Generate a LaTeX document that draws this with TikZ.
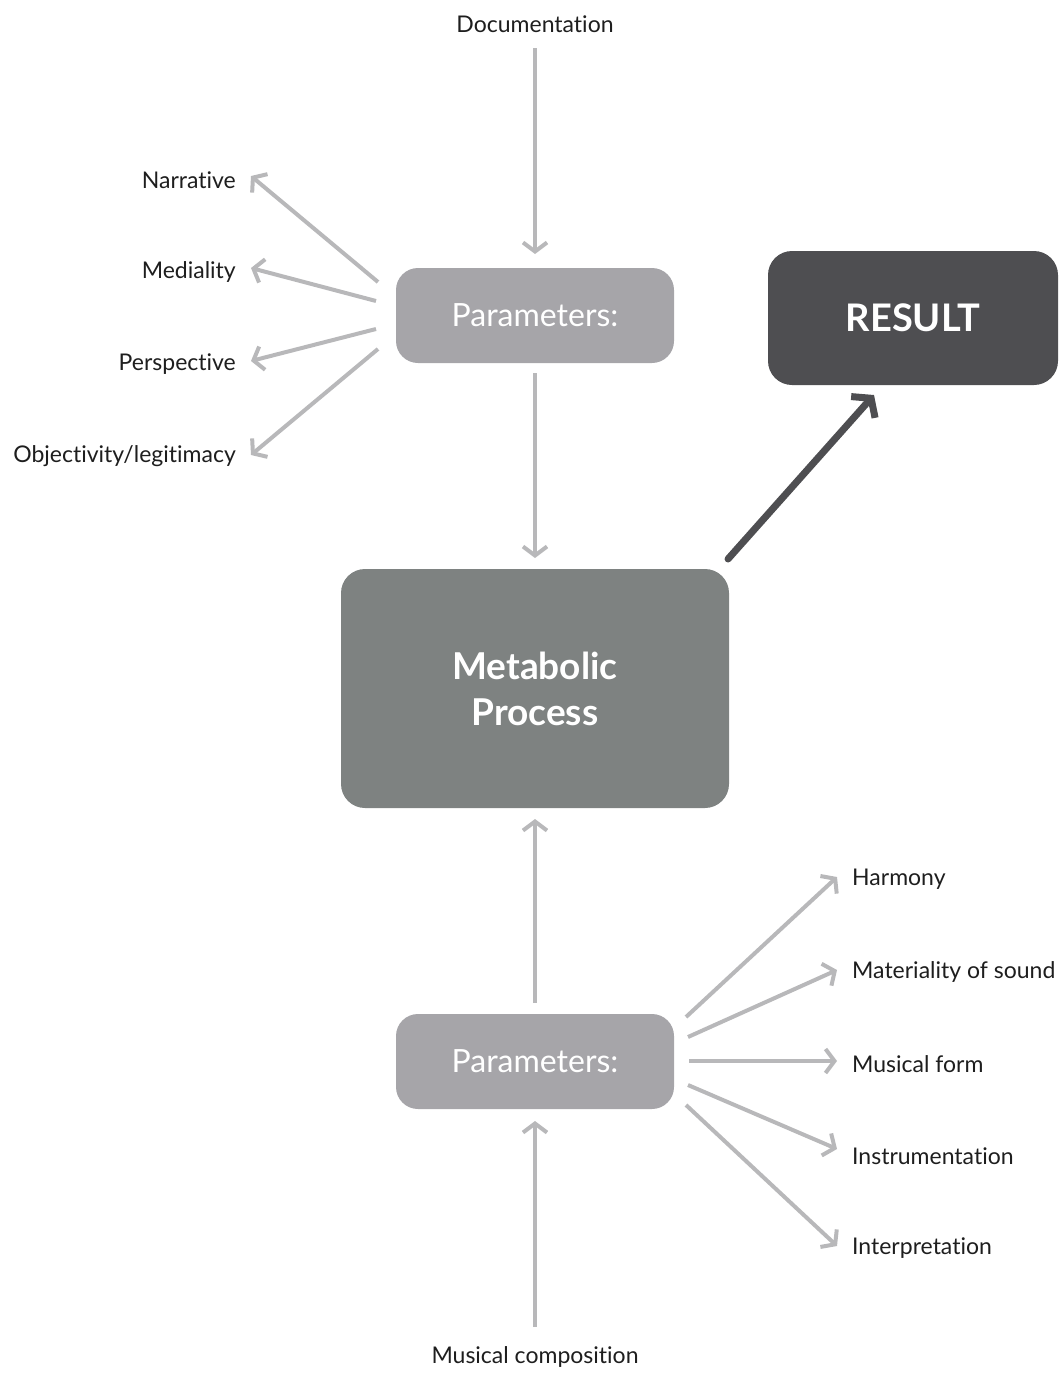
\documentclass[tikz,border=0pt]{standalone}
\usepackage{fontspec}
\setmainfont{Lato}[Ligatures=NoCommon,RawFeature=-liga]
\usetikzlibrary{arrows.meta}
\definecolor{arrowgray}{HTML}{B8B8BA}
\definecolor{paramgray}{HTML}{A6A5A9}
\definecolor{metagray}{HTML}{7E8281}
\definecolor{resultgray}{HTML}{4E4E51}
\definecolor{labeltext}{HTML}{1E1E1E}
\tikzset{
  lbl/.style={text=labeltext, font=\fontsize{23}{27}\selectfont, inner sep=0pt},
  parambox/.style={fill=paramgray, rounded corners=22pt, minimum width=278pt, minimum height=95pt, text=white, font=\fontsize{32}{36}\selectfont, inner sep=0pt},
  metabox/.style={fill=metagray, rounded corners=24pt, minimum width=388pt, minimum height=239pt, text=white, font=\bfseries\fontsize{37}{46}\selectfont, align=center, inner sep=0pt},
  resultbox/.style={fill=resultgray, rounded corners=24pt, minimum width=290pt, minimum height=134pt, text=white, font=\bfseries\fontsize{38}{42}\selectfont, inner sep=0pt},
  garrow/.style={draw=arrowgray, line width=4pt, -{Straight Barb[length=9pt,width=24pt,line width=4pt]}},
  darrow/.style={draw=resultgray, line width=7pt, line cap=round, -{Straight Barb[length=12pt,width=32pt,line width=7pt]}}
}
\begin{document}
\begin{tikzpicture}[x=1pt,y=-1pt]
\useasboundingbox (0,0) rectangle (1060,1373);
% boxes
\node[parambox] (ptop) at (535,315.5) {Parameters:};
\node[parambox] (pbot) at (535,1061.5) {Parameters:};
\node[metabox] (meta) at (535,688.5) {Metabolic\\Process};
\node[resultbox] (res) at (913,318) {RESULT};
% top / bottom labels
\node[lbl] (doc) at (535,24) {Documentation};
\node[lbl] (comp) at (535,1357) {Musical composition};
% left labels
\node[lbl, anchor=east] (narr) at (236,180) {Narrative};
\node[lbl, anchor=east] (medi) at (236,272) {Mediality};
\node[lbl, anchor=east] (pers) at (236,364) {Perspective};
\node[lbl, anchor=east] (obje) at (236,456) {Objectivity/legitimacy};
% right labels
\node[lbl, anchor=west] (harm) at (852,879) {Harmony};
\node[lbl, anchor=west] (mate) at (852,972) {Materiality of sound};
\node[lbl, anchor=west] (form) at (852,1064) {Musical form};
\node[lbl, anchor=west] (inst) at (852,1156) {Instrumentation};
\node[lbl, anchor=west] (intp) at (852,1248) {Interpretation};
% coordinates
\coordinate (docs) at (535,48);
\coordinate (doce) at (535,254);
\coordinate (pts) at (535,373);
\coordinate (mte) at (535,558);
\coordinate (pbs) at (535,1003);
\coordinate (mbe) at (535,819);
\coordinate (comps) at (535,1327);
\coordinate (compe) at (535,1121);
\coordinate (l1s) at (378,282); \coordinate (l1e) at (251,176);
\coordinate (l2s) at (376,301); \coordinate (l2e) at (251,268);
\coordinate (l3s) at (376,329); \coordinate (l3e) at (251,361);
\coordinate (l4s) at (378,349); \coordinate (l4e) at (251,455);
\coordinate (r1s) at (686,1017); \coordinate (r1e) at (837,877);
\coordinate (r2s) at (688,1037); \coordinate (r2e) at (837,970);
\coordinate (r3s) at (689,1061); \coordinate (r3e) at (837,1061);
\coordinate (r4s) at (688,1085); \coordinate (r4e) at (837,1149);
\coordinate (r5s) at (686,1105); \coordinate (r5e) at (837,1246);
\coordinate (ress) at (728,559);
\coordinate (rese) at (874,395);
% connectors
\draw[garrow] (docs) -- (doce);
\draw[garrow] (pts) -- (mte);
\draw[garrow] (pbs) -- (mbe);
\draw[garrow] (comps) -- (compe);
\draw[garrow] (l1s) -- (l1e);
\draw[garrow] (l2s) -- (l2e);
\draw[garrow] (l3s) -- (l3e);
\draw[garrow] (l4s) -- (l4e);
\draw[garrow] (r1s) -- (r1e);
\draw[garrow] (r2s) -- (r2e);
\draw[garrow] (r3s) -- (r3e);
\draw[garrow] (r4s) -- (r4e);
\draw[garrow] (r5s) -- (r5e);
\draw[darrow] (ress) -- (rese);
\end{tikzpicture}
\end{document}
